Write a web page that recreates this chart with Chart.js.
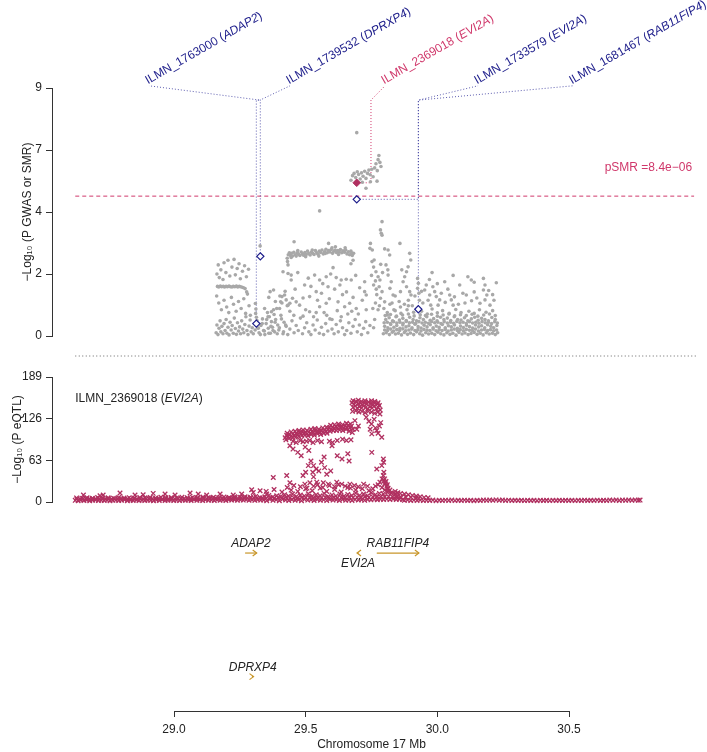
<!DOCTYPE html>
<html>
<head>
<meta charset="utf-8">
<script src="https://cdn.jsdelivr.net/npm/chart.js@4/dist/chart.umd.min.js"></script>
<style>
body { margin: 0; background: #fff; }
#wrap { position: relative; width: 707px; height: 752px; overflow: hidden; }
.pane { position: absolute; left: 0; width: 707px; }
</style>
</head>
<body>
<div id="wrap">
  <div class="pane" style="top:0;height:360px"><canvas id="smrChart"></canvas></div>
  <div class="pane" style="top:360px;height:160px"><canvas id="eqtlChart"></canvas></div>
  <div class="pane" style="top:510px;height:242px"><canvas id="geneChart"></canvas></div>
</div>
<script>
// ---- data ----
var xTicks = [29.0, 29.5, 30.0, 30.5];
var smrTicks = [0, 2.25, 4.5, 6.75, 9];
var eqtlTicks = [0, 63, 126, 189];
var pSmr = 8.4e-6;

// GWAS -log10 P, [Mb, value]
var gwasLeft = [
  [29.163,2.25],[29.168,2.58],[29.172,2.12],[29.178,2.4],[29.186,2.05],[29.19,2.66],[29.197,2.3],[29.205,2.75],[29.212,2.18],[29.22,2.5],
  [29.228,2.78],[29.233,2.22],[29.24,2.45],[29.247,2.62],[29.252,2.08],[29.26,2.35],[29.268,2.55],[29.275,2.15],[29.283,2.42],
  [29.165,1.8],[29.17,1.78],[29.176,1.81],[29.181,1.79],[29.187,1.8],[29.192,1.78],[29.198,1.8],[29.203,1.79],[29.209,1.81],[29.214,1.79],
  [29.22,1.78],[29.225,1.8],[29.231,1.79],[29.237,1.81],[29.242,1.78],[29.248,1.8],[29.253,1.79],[29.259,1.77],[29.264,1.75],[29.27,1.72],
  [29.276,1.6],[29.279,1.52],
  [29.162,1.45],[29.17,1.2],[29.18,0.95],[29.19,1.3],[29.2,1.05],[29.208,0.85],[29.218,1.4],[29.226,1.15],[29.236,0.9],[29.245,1.25],
  [29.255,1.0],[29.265,1.35],[29.272,0.82],[29.285,1.1],[29.29,0.75],
  [29.16,0.12],[29.163,0.4],[29.167,0.05],[29.171,0.28],[29.175,0.55],[29.178,0.15],[29.182,0.35],[29.186,0.08],[29.19,0.45],[29.194,0.2],
  [29.198,0.6],[29.201,0.1],[29.205,0.32],[29.209,0.04],[29.213,0.5],[29.217,0.22],[29.221,0.38],[29.225,0.1],[29.229,0.65],[29.233,0.27],
  [29.237,0.06],[29.241,0.48],[29.245,0.18],[29.249,0.33],[29.253,0.08],[29.257,0.55],[29.261,0.25],[29.265,0.12],[29.269,0.42],[29.273,0.7],
  [29.277,0.2],[29.281,0.05],[29.285,0.36],[29.289,0.58],[29.293,0.15],[29.297,0.3],[29.301,0.08],[29.305,0.45],
  [29.309,1.18],[29.311,0.98],[29.31,0.82],[29.313,0.68],[29.315,0.56],[29.318,0.3],[29.308,0.22],[29.327,3.27]
];
var gwasMiddle = [
  [29.323,0.12],[29.33,0.38],[29.336,0.62],[29.34,0.2],[29.345,0.05],[29.35,0.45],[29.355,0.85],[29.358,0.28],[29.362,0.7],[29.366,0.1],
  [29.37,0.52],[29.374,0.32],[29.378,0.95],[29.382,0.15],[29.386,0.6],[29.39,1.0],[29.394,0.4],[29.398,0.22],[29.402,1.45],[29.406,0.75],
  [29.41,1.2],[29.414,0.08],[29.418,0.5],[29.422,1.62],[29.426,0.35],[29.43,1.1],
  [29.365,1.61],[29.378,1.67],[29.41,1.43],[29.405,1.24],[29.44,1.19],[29.45,1.37],[29.414,2.33],[29.433,2.27],
  [29.445,2.21],[29.445,2.03],[29.534,2.21],[29.553,2.03],[29.578,2.15],[29.604,2.48],[29.616,2.12],[29.635,2.03],[29.654,2.06],[29.673,2.03],
  [29.724,1.97],[29.496,1.85],[29.585,1.79],[29.54,1.61],[29.42,1.49],[29.426,1.31],[29.433,1.12],[29.464,1.24],[29.477,1.12],[29.515,1.43],
  [29.553,1.06],[29.578,1.19],[29.623,1.24],[29.648,1.06],[29.667,1.19],[29.692,1.0],[29.724,1.61],[29.73,1.49],[29.401,1.0],[29.37,0.88],
  [29.344,1.0],[29.357,0.7],
  [29.46,1.7],[29.49,1.38],[29.5,0.95],[29.52,1.8],[29.53,0.7],[29.56,1.55],[29.57,0.85],[29.59,1.35],[29.6,0.6],[29.61,1.7],
  [29.64,1.5],[29.66,0.8],[29.68,1.4],
  [29.47,2.3],[29.51,2.1],[29.545,1.3],[29.565,1.9],[29.595,2.25],[29.63,1.85],[29.655,1.6],[29.69,2.2],[29.705,1.75],[29.715,1.3],
  [29.385,1.25],[29.36,1.4],[29.455,0.75],[29.515,0.88],[29.635,0.7],[29.675,0.9],
  [29.32,0.28],[29.328,0.05],[29.335,0.45],[29.343,0.18],[29.352,0.6],[29.36,0.1],[29.368,0.35],[29.376,0.2],[29.384,0.5],[29.392,0.08],
  [29.4,0.3],[29.408,0.62],[29.416,0.15],[29.424,0.4],[29.432,0.05],[29.44,0.25],[29.448,0.55],[29.456,0.12],[29.464,0.38],[29.472,0.2],
  [29.48,0.65],[29.488,0.08],[29.496,0.3],[29.504,0.48],[29.512,0.15],[29.52,0.05],[29.528,0.4],[29.536,0.22],[29.544,0.58],[29.552,0.1],
  [29.56,0.32],[29.568,0.05],[29.576,0.45],[29.584,0.18],[29.592,0.62],[29.6,0.25],[29.608,0.08],[29.616,0.42],[29.624,0.15],[29.632,0.55],
  [29.64,0.3],[29.648,0.05],[29.656,0.2],[29.664,0.48],[29.672,0.1],[29.68,0.35],[29.688,0.6],[29.696,0.15],[29.704,0.4],[29.712,0.05],
  [29.72,0.28],[29.728,0.52],[29.736,0.12],[29.744,0.38],
  [29.38,0.78],[29.44,0.9],[29.49,0.72],[29.54,0.85],[29.58,0.75],[29.62,0.92],[29.7,0.8],[29.73,0.95]
];
var gwasBand = [
  [29.43,2.82],[29.431,2.7],[29.433,2.58],[29.434,2.95],[29.438,3.02],[29.442,2.92],[29.446,3.0],[29.45,2.9],[29.455,3.04],[29.46,2.95],
  [29.464,2.9],[29.468,3.02],[29.473,2.97],[29.478,2.92],[29.483,3.05],[29.488,2.98],[29.492,2.93],[29.497,3.03],[29.502,2.96],[29.507,3.08],
  [29.512,2.99],[29.517,2.94],[29.522,3.05],[29.527,3.0],[29.532,2.96],[29.537,3.1],[29.542,3.02],[29.547,2.97],[29.552,3.08],[29.557,3.03],
  [29.562,3.12],[29.567,2.98],[29.572,3.06],[29.577,3.15],[29.582,3.02],[29.587,3.1],[29.592,3.05],[29.597,3.14],[29.602,3.0],[29.607,3.08],
  [29.612,3.12],[29.617,3.03],[29.622,3.1],[29.627,3.06],[29.632,3.14],[29.637,3.02],[29.642,3.09],[29.647,3.04],[29.652,3.12],[29.657,2.98],
  [29.662,3.06],[29.667,2.95],[29.672,3.08],[29.677,2.92],[29.682,3.0],
  [29.445,2.85],[29.47,3.1],[29.5,2.88],[29.525,3.12],[29.55,2.9],[29.575,3.0],[29.6,3.2],[29.625,2.96],[29.65,3.2],[29.675,3.0],
  [29.68,2.75],[29.672,2.62],
  [29.456,3.42],[29.553,4.54],[29.587,3.36],[29.613,3.24],[29.694,7.38]
];
var gwasPeak = [
  [29.672,5.65],[29.678,5.82],[29.684,5.9],[29.69,5.75],[29.696,5.96],[29.701,5.86],[29.707,5.7],[29.712,5.92],[29.718,5.8],[29.724,5.98],
  [29.729,5.72],[29.735,5.9],[29.74,6.02],[29.745,5.85],[29.751,6.05],[29.756,5.78],[29.762,6.1],[29.767,6.25],[29.772,6.0],[29.775,6.4],
  [29.778,6.55],[29.782,6.3],[29.786,6.15],[29.771,5.62],[29.729,5.36],[29.746,5.6],[29.715,5.58]
];
var gwasRight = [
  [29.746,3.36],[29.744,3.18],[29.753,3.12],[29.79,4.15],[29.784,3.85],[29.787,3.73],[29.79,3.66],[29.76,2.76],[29.752,2.7],[29.758,2.5],
  [29.767,2.33],[29.775,2.15],[29.782,2.03],[29.779,1.79],[29.79,1.61],[29.784,1.37],[29.8,1.24],[29.797,1.0],[29.81,0.76],[29.77,1.5],
  [29.765,1.2],[29.775,0.95],[29.758,1.85],[29.75,2.2],
  [29.755,1.0],[29.762,0.6],[29.768,1.7],[29.785,2.6],[29.792,2.3],[29.78,1.1],[29.765,2.0],[29.758,0.3],
  [29.813,3.12],[29.8,3.16],[29.819,2.94],[29.805,2.58],[29.812,2.4],[29.813,2.21],[29.825,1.97],[29.82,1.73],[29.832,1.49],[29.828,1.2],
  [29.835,0.95],
  [29.858,3.36],[29.895,3.0],[29.899,2.76],[29.889,2.51],[29.883,2.33],[29.876,2.15],[29.87,1.97],[29.883,1.79],[29.895,1.61],[29.9,1.49],
  [29.89,1.3],[29.86,1.61],[29.875,1.15],[29.865,2.4],[29.905,1.1],
  [29.925,2.09],[29.928,1.91],[29.925,1.73],[29.93,1.55],[29.932,1.3],
  [29.958,1.85],[29.952,1.67],[29.971,1.49],[29.983,1.79],[29.99,1.61],[29.996,1.43],[30.009,1.31],[30.003,1.12],[30.028,1.97],[30.047,1.49],
  [30.053,1.31],[30.06,1.12],[30.097,1.55],[30.11,1.49],[30.116,2.15],[30.129,2.03],[30.175,2.09],[30.181,1.85],[30.175,1.67],[30.188,1.49],
  [30.181,1.31],[30.162,1.19],[30.224,1.93],
  [29.84,1.45],[29.86,1.05],[29.915,1.45],[29.94,1.62],[29.965,1.3],[30.015,1.55],[30.04,1.7],[30.065,1.42],[30.085,1.85],[30.105,1.2],
  [30.14,1.6],[30.15,1.38],[30.195,1.65],[30.21,1.5],[30.06,2.2],[29.97,2.05],[30.0,1.9],[29.98,2.3],[30.14,1.95]
];
var gwasDense = [
  [29.795,0.08],[29.806,0.12],[29.818,0.05],[29.829,0.14],[29.841,0.07],[29.852,0.1],[29.864,0.04],[29.875,0.13],[29.887,0.06],[29.898,0.11],
  [29.91,0.05],[29.921,0.15],[29.933,0.08],[29.944,0.03],[29.956,0.12],[29.967,0.07],[29.979,0.1],[29.99,0.05],[30.002,0.14],[30.013,0.08],
  [30.025,0.04],[30.036,0.12],[30.048,0.06],[30.059,0.1],[30.071,0.03],[30.082,0.13],[30.094,0.07],[30.105,0.11],[30.117,0.05],[30.128,0.09],
  [30.14,0.13],[30.151,0.06],[30.163,0.1],[30.174,0.04],[30.186,0.12],[30.197,0.07],[30.209,0.1],[30.22,0.05],[30.229,0.12],
  [29.8,0.22],[29.811,0.2],[29.823,0.25],[29.834,0.18],[29.846,0.23],[29.857,0.2],[29.869,0.26],[29.88,0.19],[29.892,0.22],[29.903,0.25],
  [29.915,0.2],[29.926,0.23],[29.938,0.18],[29.949,0.24],[29.961,0.21],[29.972,0.2],[29.984,0.25],[29.995,0.19],[30.007,0.23],[30.018,0.2],
  [30.03,0.24],[30.041,0.18],[30.053,0.22],[30.064,0.25],[30.076,0.2],[30.087,0.23],[30.099,0.19],[30.11,0.24],[30.122,0.21],[30.133,0.2],
  [30.145,0.25],[30.156,0.18],[30.168,0.22],[30.179,0.24],[30.191,0.2],[30.202,0.23],[30.214,0.19],[30.225,0.22],
  [29.8,0.35],[29.812,0.3],[29.823,0.42],[29.835,0.32],[29.846,0.38],[29.858,0.28],[29.869,0.4],[29.881,0.33],[29.892,0.37],[29.904,0.3],
  [29.915,0.43],[29.927,0.34],[29.938,0.29],[29.95,0.39],[29.961,0.33],[29.973,0.41],[29.984,0.3],[29.996,0.36],[30.007,0.32],[30.019,0.42],
  [30.03,0.3],[30.042,0.37],[30.053,0.33],[30.065,0.4],[30.076,0.28],[30.088,0.36],[30.099,0.31],[30.111,0.39],[30.122,0.34],[30.134,0.29],
  [30.145,0.4],[30.157,0.33],[30.168,0.37],[30.18,0.3],[30.191,0.41],[30.203,0.35],[30.214,0.3],[30.226,0.38],
  [29.798,0.48],[29.81,0.5],[29.822,0.45],[29.834,0.52],[29.846,0.47],[29.858,0.5],[29.87,0.46],[29.882,0.53],[29.894,0.48],[29.906,0.5],
  [29.918,0.45],[29.93,0.52],[29.942,0.47],[29.954,0.5],[29.966,0.46],[29.978,0.52],[29.99,0.48],[30.002,0.5],[30.014,0.45],[30.026,0.52],
  [30.038,0.47],[30.05,0.5],[30.062,0.46],[30.074,0.53],[30.086,0.48],[30.098,0.5],[30.11,0.45],[30.122,0.52],[30.134,0.47],[30.146,0.5],
  [30.158,0.46],[30.17,0.52],[30.182,0.48],[30.194,0.5],[30.206,0.45],[30.218,0.52],[30.228,0.47],
  [29.804,0.6],[29.817,0.66],[29.83,0.55],[29.843,0.7],[29.856,0.58],[29.869,0.64],[29.882,0.56],[29.895,0.68],[29.908,0.6],[29.921,0.55],
  [29.934,0.66],[29.947,0.6],[29.96,0.7],[29.973,0.57],[29.986,0.63],[29.999,0.55],[30.012,0.68],[30.025,0.6],[30.038,0.65],[30.051,0.56],
  [30.064,0.7],[30.077,0.6],[30.09,0.58],[30.103,0.66],[30.116,0.55],[30.129,0.62],[30.142,0.68],[30.155,0.57],[30.168,0.64],[30.181,0.6],
  [30.194,0.55],[30.207,0.67],[30.22,0.6],
  [29.802,0.74],[29.822,0.78],[29.845,0.72],[29.868,0.76],[29.89,0.8],[29.912,0.73],[29.935,0.77],[29.955,0.74],[29.978,0.79],[30.0,0.72],
  [30.022,0.76],[30.044,0.8],[30.066,0.73],[30.088,0.77],[30.11,0.74],[30.132,0.79],[30.154,0.72],[30.176,0.76],[30.198,0.8],[30.22,0.74],
  [29.81,0.85],[29.84,0.92],[29.862,0.82],[29.885,0.95],[29.91,0.86],[29.94,0.9],[29.962,0.8],[29.98,0.98],[30.0,0.84],[30.02,0.92],
  [30.045,0.82],[30.07,0.96],[30.09,0.85],[30.12,0.9],[30.14,0.82],[30.16,0.95],[30.185,0.86],[30.21,0.92],
  [29.82,1.15],[29.855,1.25],[29.89,1.1],[29.945,1.2],[29.975,1.12],[30.03,1.22],[30.08,1.15],[30.13,1.28],[30.2,1.12],[30.215,1.3]
];

// SMR probes
var probeIds = ['ILMN_1763000', 'ILMN_1739532', 'ILMN_2369018', 'ILMN_1733579', 'ILMN_1681467'];
var probeGenes = ['ADAP2', 'DPRXP4', 'EVI2A', 'EVI2A', 'RAB11FIP4'];
var probeMb = [29.3126, 29.3278, 29.6939, 29.6939, 29.9278];
var probeLogP = [0.45, 2.89, 5.56, 4.96, 0.97];
var probeSig = [false, false, true, false, false];
var probeLineMb = [29.3126, 29.3278, 29.748, 29.928, 29.928];
var probeKinkMb = [29.3266, 29.3266, 29.748, 29.928, 29.928];
var probeLabelMb = [28.905, 29.4406, 29.8014, 30.1546, 30.515];
var kinkLogP = 8.56;
var labelLogP = 9.08;
var regionMb = [28.625, 30.975];

// eQTL -log10 P for ILMN_2369018, [Mb, value]
var eqtlBaseLeft = [
  [28.625,2.5],[28.636,2],[28.647,3],[28.658,2.2],[28.669,2.8],[28.68,1.8],[28.691,2.6],[28.702,3.1],[28.713,2.1],[28.724,2.7],
  [28.735,2.3],[28.746,3.0],[28.757,1.9],[28.768,2.5],[28.779,2.9],[28.79,2.2],[28.801,2.6],[28.812,3.2],[28.823,2.0],[28.834,2.7],
  [28.845,2.4],[28.856,3.0],[28.867,2.1],[28.878,2.8],[28.889,2.3],[28.9,3.1],[28.911,2.5],[28.922,2.0],[28.933,2.9],[28.944,2.4],
  [28.955,3.2],[28.966,2.2],[28.977,2.7],[28.988,3.0],[28.999,2.3],[29.01,2.8],[29.021,2.1],[29.032,3.1],[29.043,2.6],[29.054,2.9],
  [29.065,2.2],[29.076,3.3],[29.087,2.5],[29.098,2.8],[29.109,2.1],[29.12,3.2],[29.131,2.6],[29.142,3.0],[29.153,2.3],[29.164,3.4],
  [29.175,2.7],[29.186,3.1],[29.197,2.4],[29.208,3.3],[29.219,2.8],[29.23,3.5],[29.241,2.6],[29.252,3.2],[29.263,2.9],[29.274,3.6],
  [29.285,2.7],[29.296,3.3],[29.307,2.5],[29.318,3.4],[29.329,2.9],
  [28.631,4.6],[28.643,4.2],[28.655,4.9],[28.667,4.4],[28.679,5.0],[28.691,4.3],[28.703,4.8],[28.715,4.5],[28.727,5.1],[28.739,4.4],
  [28.751,4.9],[28.763,4.2],[28.775,5.0],[28.787,4.6],[28.799,5.2],[28.811,4.4],[28.823,4.9],[28.835,4.5],[28.847,5.1],[28.859,4.3],
  [28.871,5.0],[28.883,4.6],[28.895,5.3],[28.907,4.5],[28.919,5.0],[28.931,4.7],[28.943,5.3],[28.955,4.6],[28.967,5.1],[28.979,4.8],
  [28.991,5.4],[29.003,4.7],[29.015,5.2],[29.027,4.9],[29.039,5.5],[29.051,4.8],[29.063,5.3],[29.075,5.0],[29.087,5.6],[29.099,4.9],
  [29.111,5.4],[29.123,5.1],[29.135,5.7],[29.147,5.0],[29.159,5.6],[29.171,5.2],[29.183,5.8],[29.195,5.3],[29.207,5.9],[29.219,5.4],
  [29.231,6.0],[29.243,5.5],[29.255,6.1],[29.267,5.7],[29.279,6.3],[29.291,5.8],[29.303,6.4],[29.315,6.0],[29.327,6.5],
  [28.63,6.2],[28.65,5.8],[28.67,6.5],[28.69,5.6],[28.71,6.8],[28.73,6.0],[28.75,6.4],[28.77,5.9],[28.79,6.9],[28.81,6.1],
  [28.83,6.6],[28.85,5.8],[28.87,7.0],[28.89,6.3],[28.91,6.7],[28.93,6.0],[28.95,7.2],[28.97,6.4],[28.99,6.9],[29.01,6.2],
  [29.03,7.3],[29.05,6.6],[29.07,7.0],[29.09,6.4],[29.11,7.5],[29.13,6.8],[29.15,7.2],[29.17,6.6],[29.19,7.6],[29.21,7.0],
  [29.23,7.8],[29.25,7.2],[29.27,8.0],[29.29,7.4],[29.31,8.2],
  [28.656,10.6],[28.719,9.5],[28.731,10.6],[28.795,13.6],[28.852,10.6],[28.883,11],[28.921,13],[28.966,12],[29.004,10.6],[29.061,13.6],
  [29.092,12],[29.124,10.6],[29.175,12],[29.225,10.6],[29.257,12],[29.295,18.6],[29.301,14.5]
];
var eqtlMid = [
  [29.327,17],[29.352,12],[29.377,37],[29.428,40],[29.44,29],[29.497,27],[29.516,29],[29.542,30],[29.567,29],[29.586,27],
  [29.618,30],[29.637,27],[29.668,27],
  [29.34,3],[29.352,2],[29.364,4],[29.376,2.5],[29.388,3.5],[29.4,2],[29.412,4],[29.424,3],[29.436,2.2],[29.448,3.8],
  [29.46,2.6],[29.472,3.3],[29.484,2],[29.496,4],[29.508,2.8],[29.52,3.5],[29.532,2.2],[29.544,3.9],[29.556,2.6],[29.568,3.2],
  [29.58,2.1],[29.592,3.7],[29.604,2.9],[29.616,3.4],[29.628,2.3],[29.64,3.8],[29.652,2.7],[29.664,3.1],[29.676,2.4],[29.688,3.6],
  [29.7,3],[29.712,3.5],[29.724,2.5],[29.736,3.9],[29.748,3.2],[29.76,4],[29.772,3.4],[29.784,4.2],[29.796,3.6],[29.808,4.4],
  [29.82,3.8],[29.832,4.5],[29.844,3.9],[29.856,4.2],[29.868,3.6],
  [29.335,6],[29.35,5.5],[29.365,6.5],[29.38,5.8],[29.395,6.8],[29.41,6.2],[29.425,7],[29.44,6.1],[29.455,6.6],[29.47,5.9],
  [29.485,6.9],[29.5,6.3],[29.515,7.1],[29.53,6.0],[29.545,6.7],[29.56,6.2],[29.575,7.2],[29.59,6.4],[29.605,6.9],[29.62,6.1],
  [29.635,7.0],[29.65,6.5],[29.665,7.3],[29.68,6.6],[29.695,7.4],[29.71,6.8],[29.725,7.6],[29.74,7.0],[29.755,7.8],[29.77,7.2],
  [29.785,8.0],[29.8,7.6],[29.815,8.3],[29.83,7.8],[29.845,6.9],[29.86,6.2],
  [29.345,8],[29.36,10],[29.375,7.5],[29.39,9.5],[29.405,8.2],[29.42,11],[29.435,9],[29.45,12],[29.465,8.5],[29.48,10.5],
  [29.495,9.2],[29.51,12.5],[29.525,8.8],[29.54,11],[29.555,9.5],[29.57,13],[29.585,8],[29.6,10.8],[29.615,9.3],[29.63,12.2],
  [29.645,8.6],[29.66,11.5],[29.675,9.8],[29.69,13.5],[29.705,10],[29.72,12],[29.735,9.5],[29.75,14],[29.765,11],[29.78,13],
  [29.795,12],[29.81,15],[29.825,13],[29.84,12],
  [29.35,16],[29.38,19],[29.41,15],[29.445,18],[29.47,16],[29.5,20],[29.525,17],[29.555,21],[29.58,16],[29.61,19],
  [29.635,15],[29.66,22],[29.69,18],[29.715,20],[29.74,17],[29.765,24],[29.79,22],[29.8,27],[29.805,31],[29.81,26],
  [29.8,18],[29.812,20],[29.815,16],[29.797,32],[29.802,28],[29.808,24],[29.813,21],[29.82,18],[29.825,14],[29.8,35],
  [29.43,22],[29.455,25],[29.48,23],[29.505,21],[29.53,24],[29.545,26],[29.565,22],[29.59,25],[29.61,23],[29.625,26],
  [29.65,24],[29.67,21],[29.685,25],[29.7,23],[29.72,27],[29.735,24],[29.755,20],[29.775,26],
  [29.84,16],[29.85,14],[29.86,13],[29.875,12],[29.89,11],[29.905,10],[29.92,9],[29.935,8],[29.95,7],[29.965,6.5],
  [29.845,9],[29.86,8],[29.88,7.5],[29.9,7],[29.92,6],
  [29.44,85],[29.452,80],[29.47,75],[29.498,83],[29.512,78],[29.52,62],[29.53,55],[29.54,50],[29.51,55],[29.527,45],
  [29.55,47],[29.572,52],[29.595,47],[29.56,60],[29.57,68],[29.5,45],[29.483,70],[29.62,70],[29.638,65],[29.6,85],
  [29.66,73],[29.665,62],[29.49,40],[29.53,38],[29.58,42],
  [29.452,92],[29.464,90],[29.48,93],[29.49,91],[29.503,92],[29.515,93],[29.528,90],[29.545,93],[29.56,91],[29.59,92],
  [29.602,90],[29.62,93],[29.64,95],[29.655,93],[29.672,94]
];
var eqtlPlateau = [
  [29.422,97],[29.428,101],[29.434,99],[29.44,102],[29.446,100],[29.452,103],[29.458,101],[29.464,104],[29.47,102],[29.476,105],
  [29.482,103],[29.488,106],[29.494,104],[29.5,105],[29.506,103],[29.512,106],[29.518,104],[29.524,107],[29.53,105],[29.536,108],
  [29.542,106],[29.548,107],[29.554,105],[29.56,108],[29.566,106],[29.572,109],[29.578,107],[29.584,110],[29.59,112],[29.596,110],
  [29.602,113],[29.608,111],[29.614,114],[29.62,112],[29.626,115],[29.632,113],[29.638,114],[29.644,112],[29.65,115],[29.656,113],
  [29.662,116],[29.668,112],[29.674,115],[29.68,110],
  [29.425,94],[29.437,96],[29.449,97],[29.461,98],[29.473,99],[29.485,100],[29.497,101],[29.509,100],[29.521,102],[29.533,101],
  [29.545,103],[29.557,102],[29.569,104],[29.581,104],[29.593,107],[29.605,108],[29.617,108],[29.629,109],[29.641,108],[29.653,110],
  [29.665,107],[29.677,105],
  [29.43,104],[29.445,106],[29.46,107],[29.475,108],[29.49,109],[29.505,108],[29.52,110],[29.535,111],[29.55,110],[29.565,112],
  [29.58,113],[29.595,116],[29.61,117],[29.625,118],[29.64,117],[29.655,119],[29.67,118]
];
var eqtlTop = [
  [29.68,153],[29.69,152],[29.70,154],[29.712,152],[29.725,153],[29.738,151],[29.75,153],[29.762,152],[29.775,150],
  [29.676,150],[29.684,148],[29.692,151],[29.7,149],[29.708,150],[29.716,147],[29.724,150],[29.732,148],[29.74,151],[29.748,149],
  [29.756,147],[29.764,150],[29.772,148],[29.78,146],
  [29.68,143],[29.688,145],[29.696,142],[29.704,144],[29.712,142],[29.72,145],[29.728,143],[29.736,141],[29.744,144],[29.752,142],
  [29.76,145],[29.768,141],[29.776,143],[29.783,139],
  [29.678,137],[29.69,138],[29.702,136],[29.714,137],[29.726,135],[29.738,137],[29.75,136],[29.762,134],[29.774,136],[29.782,133],
  [29.73,128],[29.74,122],[29.75,118],[29.76,125],[29.765,112],[29.77,108],[29.775,104],[29.78,115],[29.785,120],[29.745,110],
  [29.687,123],[29.70,115],[29.694,110],[29.751,103],[29.789,98],[29.751,75],[29.795,65],[29.789,55],[29.77,50],[29.795,40],
  [29.782,30],[29.797,45],[29.796,60],[29.79,35]
];
var eqtlBaseRight = [
  [29.875,2.5],[29.887,3.1],[29.899,2.2],[29.911,2.8],[29.923,2.4],[29.935,3.0],[29.947,2.1],[29.959,2.7],[29.971,2.3],[29.983,2.9],
  [29.995,2.0],[30.007,2.6],[30.019,2.2],[30.031,2.8],[30.043,2.4],[30.055,2.9],[30.067,2.1],[30.079,2.6],[30.091,2.3],[30.103,2.8],
  [30.115,2.2],[30.127,2.7],[30.139,2.0],[30.151,2.6],[30.163,2.3],[30.175,2.9],[30.187,2.5],[30.199,3.1],[30.211,2.6],[30.223,3.2],
  [30.235,2.7],[30.247,3.0],[30.259,2.4],[30.271,2.8],[30.283,2.2],[30.295,2.7],[30.307,2.3],[30.319,2.6],[30.331,2.1],[30.343,2.5],
  [30.355,2.2],[30.367,2.6],[30.379,2.0],[30.391,2.5],[30.403,2.2],[30.415,2.7],[30.427,2.1],[30.439,2.5],[30.451,2.2],[30.463,2.6],
  [30.475,2.3],[30.487,2.7],[30.499,2.2],[30.511,2.6],[30.523,2.1],[30.535,2.5],[30.547,2.3],[30.559,2.8],[30.571,2.2],[30.583,2.6],
  [30.595,2.4],[30.607,2.8],[30.619,2.3],[30.631,2.7],[30.643,2.4],[30.655,2.9],[30.667,2.5],[30.679,3.0],[30.691,2.4],[30.703,2.9],
  [30.715,2.5],[30.727,3.0],[30.739,2.6],[30.751,3.1],[30.763,2.7],[30.77,2.9]
];

// genes
var geneNames = ['ADAP2', 'EVI2A', 'RAB11FIP4', 'DPRXP4'];
var geneStart = [29.270, 29.695, 29.770, 29.296];
var geneEnd = [29.314, 29.703, 29.930, 29.302];
var geneStrand = ['+', '-', '+', '+'];
var geneRow = [8.27, 8.27, 8.27, 1.8];
var geneLabelBelow = [false, true, false, false];

// ---- style ----
var FONT = '"Liberation Sans", Arial, Helvetica, sans-serif';
var INK = '#222222';
var NAVY = '#1c1c8a';
var NAVY_LINE = 'rgba(40, 40, 150, 0.75)';
var MAROON = '#b03060';
var PINK = '#d0386b';
var GREY_PT = '#a8a8a8';
var GOLD = '#c8962a';
var X_MIN = 28.5367, X_MAX = 30.9785;

function rRound(v) {
    // R rounds half to even, so 4.5 becomes 4
    var f = Math.floor(v);
    if (Math.abs(v - f - 0.5) < 1e-9) return (f % 2 === 0) ? f : f + 1;
    return Math.round(v);
}

function toXY(arr) {
    return arr.map(function (p) { return { x: p[0], y: p[1] }; });
}

function drawMixed(ctx, parts, x, y) {
    // parts: [text, italic]
    var cx = x;
    parts.forEach(function (p) {
        ctx.font = (p[1] ? 'italic ' : '') + '12px ' + FONT;
        ctx.fillText(p[0], cx, y);
        cx += ctx.measureText(p[0]).width;
    });
    return cx - x;
}

Chart.defaults.font.family = FONT;
Chart.defaults.font.size = 12;
Chart.defaults.color = INK;
Chart.defaults.animation = false;
Chart.defaults.plugins.legend.display = false;
Chart.defaults.plugins.tooltip.enabled = false;
Chart.defaults.maintainAspectRatio = false;

var axisGrid = { drawOnChartArea: false, drawTicks: true, tickLength: 6, color: '#333', lineWidth: 1 };

// ---- SMR / GWAS panel ----
var smrPlugin = {
    id: 'smrDecor',
    beforeDatasetsDraw: function (chart) {
        var ctx = chart.ctx, x = chart.scales.x, y = chart.scales.y;
        var x0 = x.getPixelForValue(regionMb[0]), x1 = x.getPixelForValue(regionMb[1]);
        ctx.save();
        // threshold line
        var ty = y.getPixelForValue(-Math.log10(pSmr));
        ctx.strokeStyle = PINK;
        ctx.lineWidth = 1;
        ctx.setLineDash([4, 3]);
        ctx.beginPath(); ctx.moveTo(x0, ty); ctx.lineTo(x1, ty); ctx.stroke();
        // connectors
        ctx.setLineDash([1, 2]);
        for (var i = 0; i < probeIds.length; i++) {
            var px = x.getPixelForValue(probeMb[i]);
            var py = y.getPixelForValue(probeLogP[i]);
            var lx = x.getPixelForValue(probeLineMb[i]);
            var kx = x.getPixelForValue(probeKinkMb[i]);
            var ky = y.getPixelForValue(kinkLogP);
            var tx = x.getPixelForValue(probeLabelMb[i]);
            var tyy = y.getPixelForValue(labelLogP);
            ctx.strokeStyle = probeSig[i] ? PINK : NAVY_LINE;
            ctx.beginPath();
            ctx.moveTo(px, py); ctx.lineTo(lx, py); ctx.lineTo(lx, ky);
            ctx.lineTo(kx, ky); ctx.lineTo(tx, tyy);
            ctx.stroke();
        }
        // panel separator
        var sy = chart.chartArea.bottom + 20;
        ctx.strokeStyle = '#666';
        ctx.setLineDash([1, 2.5]);
        ctx.beginPath(); ctx.moveTo(x0, sy); ctx.lineTo(x1 + 2, sy); ctx.stroke();
        ctx.restore();
    },
    afterDatasetsDraw: function (chart) {
        var ctx = chart.ctx, x = chart.scales.x, y = chart.scales.y;
        ctx.save();
        ctx.textBaseline = 'alphabetic';
        ctx.textAlign = 'left';
        for (var i = 0; i < probeIds.length; i++) {
            var tx = x.getPixelForValue(probeLabelMb[i]);
            var ty = y.getPixelForValue(labelLogP);
            ctx.save();
            ctx.translate(tx - 1, ty - 1.5);
            ctx.rotate(-30 * Math.PI / 180);
            ctx.fillStyle = probeSig[i] ? PINK : NAVY;
            drawMixed(ctx, [[probeIds[i] + ' (', false], [probeGenes[i], true], [')', false]], 0, 0);
            ctx.restore();
        }
        // pSMR text
        var thy = y.getPixelForValue(-Math.log10(pSmr));
        ctx.fillStyle = PINK;
        ctx.font = '12px ' + FONT;
        ctx.textAlign = 'right';
        ctx.fillText('pSMR =' + pSmr.toExponential(1).replace('e-', 'e\u22120'), x.getPixelForValue(regionMb[1]) - 2, thy - 25);
        ctx.restore();
    }
};

new Chart(document.getElementById('smrChart'), {
    type: 'scatter',
    data: {
        datasets: [
            { data: toXY(gwasLeft.concat(gwasMiddle, gwasBand, gwasPeak, gwasRight, gwasDense)), pointRadius: 1.8,
              pointBackgroundColor: GREY_PT, pointBorderWidth: 0, clip: false, order: 3 },
            { data: probeMb.map(function (m, i) { return { x: m, y: probeLogP[i] }; }).filter(function (d, i) { return !probeSig[i]; }),
              pointStyle: 'rectRot', pointRadius: 3.6, pointBackgroundColor: '#fff', pointBorderColor: NAVY,
              pointBorderWidth: 1.2, clip: false, order: 2 },
            { data: probeMb.map(function (m, i) { return { x: m, y: probeLogP[i] }; }).filter(function (d, i) { return probeSig[i]; }),
              pointStyle: 'rectRot', pointRadius: 3.8, pointBackgroundColor: MAROON, pointBorderColor: MAROON,
              pointBorderWidth: 1, clip: false, order: 1 }
        ]
    },
    options: {
        responsive: true,
        events: [],
        layout: { padding: { top: 88, bottom: 24, left: 16, right: 12 } },
        scales: {
            x: { type: 'linear', min: X_MIN, max: X_MAX, display: false },
            y: {
                min: 0, max: 9,
                afterBuildTicks: function (s) { s.ticks = smrTicks.map(function (v) { return { value: v }; }); },
                afterFit: function (s) { s.width = 36; },
                ticks: { callback: function (v) { return rRound(v); }, padding: 4, color: INK },
                grid: axisGrid,
                border: { display: true, color: '#333' },
                title: { display: true, text: '\u2212Log\u2081\u2080 (P GWAS or SMR)', color: INK, padding: { top: 4, bottom: 0 } }
            }
        }
    },
    plugins: [smrPlugin]
});

// ---- eQTL panel ----
var eqtlPlugin = {
    id: 'eqtlDecor',
    afterDatasetsDraw: function (chart) {
        var ctx = chart.ctx, x = chart.scales.x, y = chart.scales.y;
        ctx.save();
        ctx.fillStyle = INK;
        ctx.textBaseline = 'middle';
        drawMixed(ctx, [[probeIds[2] + ' (', false], [probeGenes[2], true], [')', false]],
            x.getPixelForValue(regionMb[0]), y.getPixelForValue(156));
        ctx.restore();
    }
};

new Chart(document.getElementById('eqtlChart'), {
    type: 'scatter',
    data: {
        datasets: [{
            data: toXY(eqtlBaseLeft.concat(eqtlMid, eqtlPlateau, eqtlTop, eqtlBaseRight)),
            pointStyle: 'crossRot', pointRadius: 3.2, pointBorderColor: MAROON, pointBorderWidth: 1.3, clip: false
        }]
    },
    options: {
        responsive: true,
        events: [],
        layout: { padding: { top: 17, bottom: 18, left: 6, right: 12 } },
        scales: {
            x: { type: 'linear', min: X_MIN, max: X_MAX, display: false },
            y: {
                min: 0, max: 189,
                afterBuildTicks: function (s) { s.ticks = eqtlTicks.map(function (v) { return { value: v }; }); },
                afterFit: function (s) { s.width = 46; },
                ticks: { padding: 4, color: INK },
                grid: axisGrid,
                border: { display: true, color: '#333' },
                title: { display: true, text: '\u2212Log\u2081\u2080 (P eQTL)', color: INK, padding: { top: 4, bottom: 0 } }
            }
        }
    },
    plugins: [eqtlPlugin]
});

// ---- gene track with chromosome axis ----
var genePlugin = {
    id: 'geneDecor',
    afterDatasetsDraw: function (chart) {
        var ctx = chart.ctx, x = chart.scales.x, y = chart.scales.y;
        ctx.save();
        for (var i = 0; i < geneNames.length; i++) {
            var xs = x.getPixelForValue(geneStart[i]), xe = x.getPixelForValue(geneEnd[i]);
            var gy = y.getPixelForValue(geneRow[i]);
            ctx.strokeStyle = GOLD;
            ctx.lineWidth = 1.2;
            ctx.beginPath();
            if (geneStrand[i] === '+') {
                ctx.moveTo(xe - 4, gy - 3); ctx.lineTo(xe, gy); ctx.lineTo(xe - 4, gy + 3);
            } else {
                ctx.moveTo(xs + 4, gy - 3); ctx.lineTo(xs, gy); ctx.lineTo(xs + 4, gy + 3);
            }
            ctx.stroke();
            ctx.fillStyle = INK;
            ctx.font = 'italic 12px ' + FONT;
            ctx.textAlign = 'center';
            var mid = (xs + xe) / 2;
            if (geneLabelBelow[i]) {
                ctx.textBaseline = 'top';
                ctx.fillText(geneNames[i], mid, gy + 5);
            } else {
                ctx.textBaseline = 'alphabetic';
                ctx.fillText(geneNames[i], mid, gy - 6);
            }
        }
        ctx.restore();
    }
};

new Chart(document.getElementById('geneChart'), {
    type: 'scatter',
    data: {
        datasets: geneNames.map(function (g, i) {
            return {
                data: [{ x: geneStart[i], y: geneRow[i] }, { x: geneEnd[i], y: geneRow[i] }],
                showLine: true, borderColor: GOLD, borderWidth: 1.2, pointRadius: 0, clip: false
            };
        })
    },
    options: {
        responsive: true,
        events: [],
        layout: { padding: { top: 10, bottom: 0, left: 174, right: 138 } },
        scales: {
            x: {
                type: 'linear', min: 29.0, max: 30.5,
                afterBuildTicks: function (s) { s.ticks = xTicks.map(function (v) { return { value: v }; }); },
                afterFit: function (s) { s.height = 41; },
                ticks: { callback: function (v) { return v.toFixed(1); }, padding: 5, color: INK, maxRotation: 0 },
                grid: axisGrid,
                border: { display: true, color: '#333' },
                title: { display: true, text: 'Chromosome 17 Mb', color: INK, padding: { top: 0, bottom: 0 } }
            },
            y: { min: 0, max: 10, display: false }
        }
    },
    plugins: [genePlugin]
});
</script>
</body>
</html>
